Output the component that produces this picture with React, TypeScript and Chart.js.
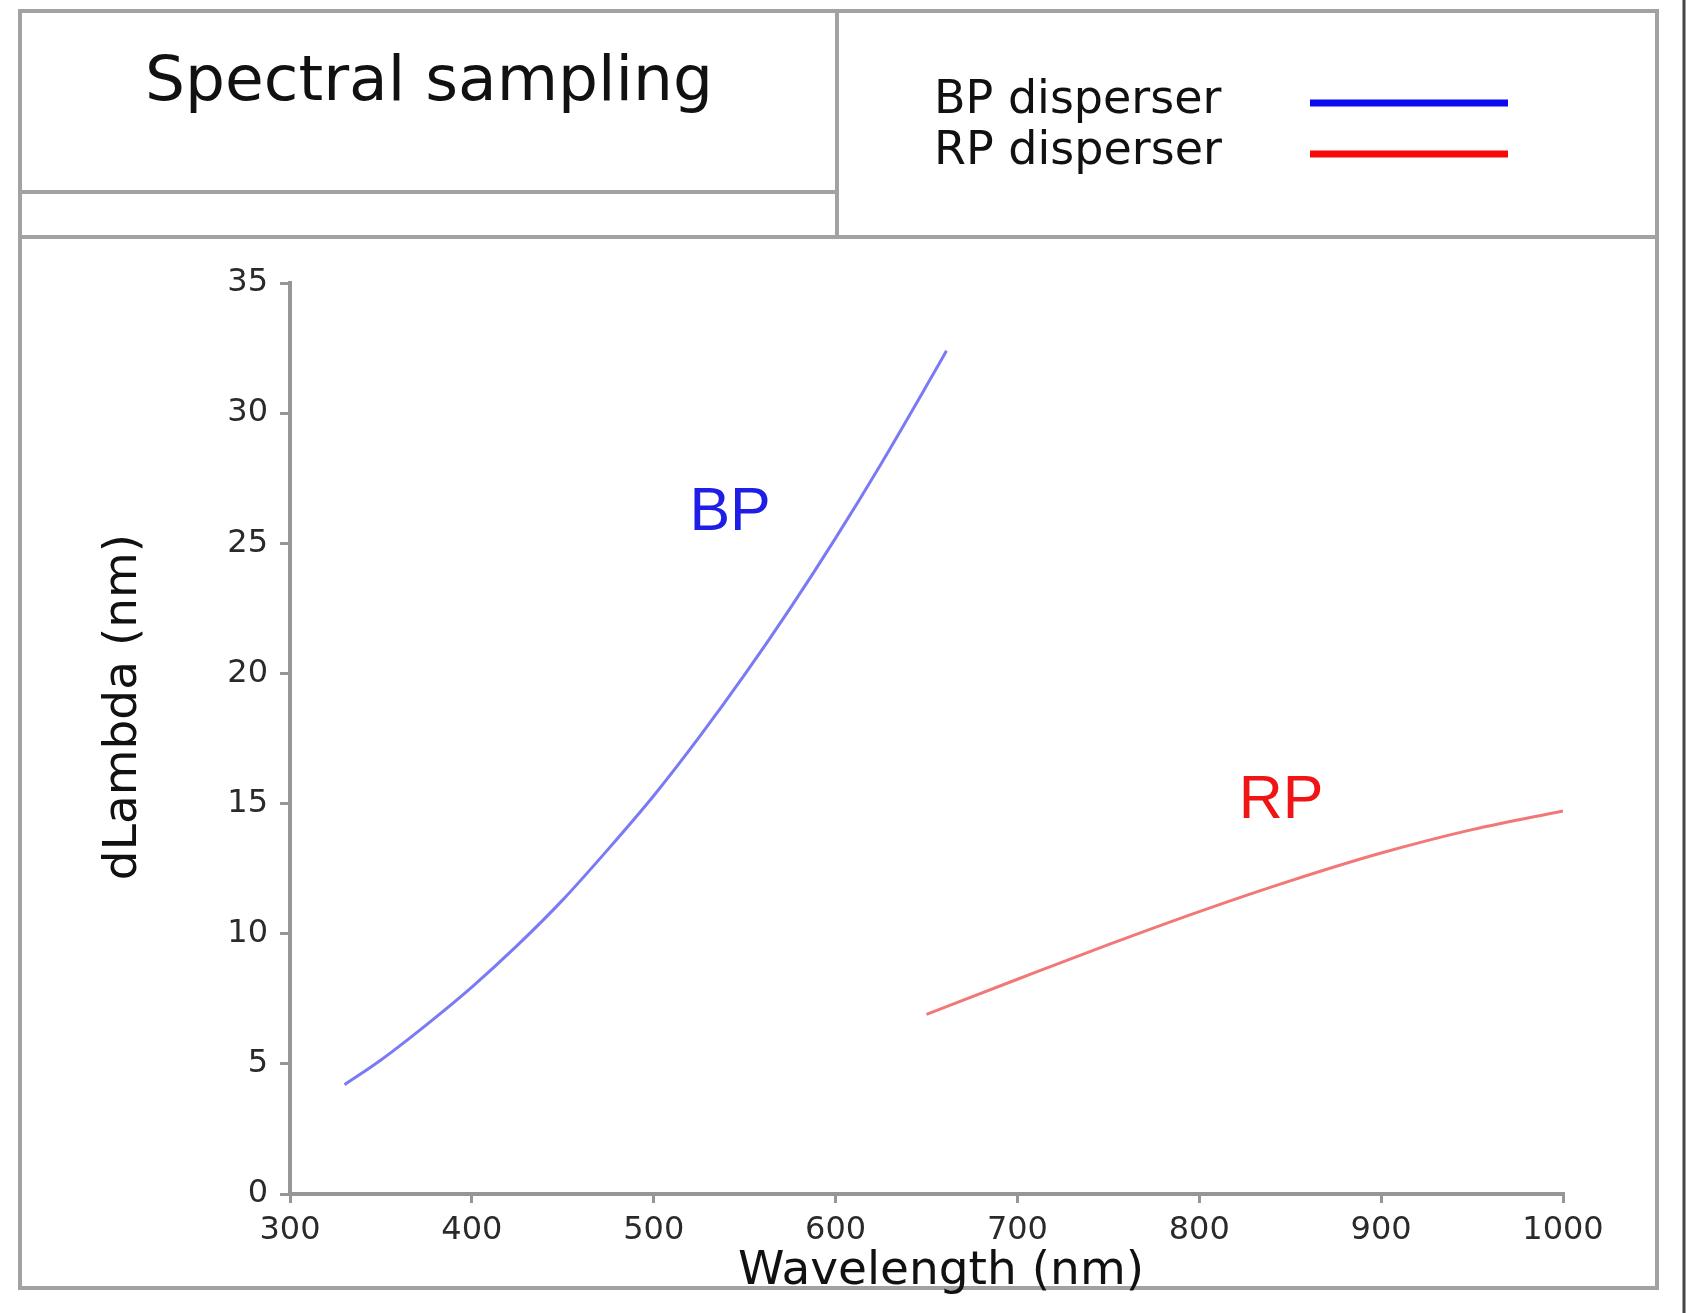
import React, { useEffect, useRef } from "react";
import { Chart, registerables } from "chart.js";

Chart.register(...registerables);

// ---- data ----
const bpWavelength = [330, 350, 375, 400, 425, 450, 475, 500, 525, 550, 575, 600, 625, 650, 661];
const bpDLambda = [4.2, 5.15, 6.5, 7.95, 9.55, 11.3, 13.25, 15.3, 17.55, 19.95, 22.5, 25.2, 28.05, 31.05, 32.4];
const rpWavelength = [650, 700, 750, 800, 850, 900, 950, 1000];
const rpDLambda = [6.9, 8.25, 9.58, 10.85, 12.03, 13.1, 14.0, 14.72];

const xTickValues = [300, 400, 500, 600, 700, 800, 900, 1000];
const yTickValues = [0, 5, 10, 15, 20, 25, 30, 35];

const seriesNames = ["BP disperser", "RP disperser"];
const curveLabels = ["BP", "RP"];
const curveLabelX = [542, 845];
const curveLabelY = [25.5, 14.45];

const chartTitle = "Spectral sampling";
const xTitle = "Wavelength (nm)";
const yTitle = "dLambda (nm)";

const W = 1687;
const H = 1313;

const FRAME = "#a2a2a2";
const AXIS = "#969696";
const BP_LINE = "#7a7af6";
const RP_LINE = "#f27878";

const decorPlugin = {
  id: "decor",
  beforeDraw(chart: any) {
    const ctx = chart.ctx;
    ctx.save();
    ctx.fillStyle = "#ffffff";
    ctx.fillRect(0, 0, W, H);
    ctx.strokeStyle = FRAME;
    ctx.lineWidth = 4;
    // outer frame
    ctx.strokeRect(20, 11, 1637, 1277);
    ctx.beginPath();
    // header divider
    ctx.moveTo(837, 11);
    ctx.lineTo(837, 237);
    // left box inner line
    ctx.moveTo(20, 192);
    ctx.lineTo(837, 192);
    // header bottom line
    ctx.moveTo(20, 237);
    ctx.lineTo(1657, 237);
    ctx.stroke();
    // dark edge on far right
    ctx.strokeStyle = "#444444";
    ctx.lineWidth = 3;
    ctx.beginPath();
    ctx.moveTo(1684, 0);
    ctx.lineTo(1684, H);
    ctx.stroke();
    ctx.restore();
  },
  afterDatasetsDraw(chart: any) {
    const ctx = chart.ctx;
    const xs = chart.scales.x;
    const ys = chart.scales.y;
    ctx.save();
    // title
    ctx.fillStyle = "#111111";
    ctx.textBaseline = "alphabetic";
    ctx.textAlign = "center";
    ctx.font = "63px 'DejaVu Sans'";
    ctx.fillText(chartTitle, 429, 100);

    // legend
    const legendColors = ["#0a0af0", "#f50a0a"];
    const baselines = [113, 164];
    const lineYs = [103, 154];
    ctx.font = "46px 'DejaVu Sans'";
    ctx.textAlign = "left";
    seriesNames.forEach((name, i) => {
      ctx.fillStyle = "#111111";
      ctx.fillText(name, 934, baselines[i]);
      ctx.strokeStyle = legendColors[i];
      ctx.lineWidth = 7;
      ctx.beginPath();
      ctx.moveTo(1310, lineYs[i]);
      ctx.lineTo(1508, lineYs[i]);
      ctx.stroke();
    });

    // curve labels
    const labelColors = ["#1e1ee6", "#f01414"];
    ctx.font = "61px 'Liberation Sans'";
    ctx.textAlign = "center";
    curveLabels.forEach((lab, i) => {
      ctx.fillStyle = labelColors[i];
      ctx.fillText(lab, xs.getPixelForValue(curveLabelX[i]), ys.getPixelForValue(curveLabelY[i]));
    });

    // axis titles
    ctx.fillStyle = "#111111";
    ctx.font = "47px 'DejaVu Sans'";
    ctx.textAlign = "center";
    ctx.fillText(xTitle, 941, 1284);
    ctx.translate(136, 707);
    ctx.rotate(-Math.PI / 2);
    ctx.fillText(yTitle, 0, 0);
    ctx.restore();
  },
};

export default function App() {
  const canvasRef = useRef<HTMLCanvasElement | null>(null);

  useEffect(() => {
    const canvas = canvasRef.current;
    if (!canvas) return;
    const chart = new Chart(canvas, {
      type: "line",
      data: {
        datasets: [
          {
            label: seriesNames[0],
            data: bpWavelength.map((x, i) => ({ x, y: bpDLambda[i] })),
            borderColor: BP_LINE,
            borderWidth: 3,
            pointRadius: 0,
            cubicInterpolationMode: "monotone",
            fill: false,
          },
          {
            label: seriesNames[1],
            data: rpWavelength.map((x, i) => ({ x, y: rpDLambda[i] })),
            borderColor: RP_LINE,
            borderWidth: 3,
            pointRadius: 0,
            cubicInterpolationMode: "monotone",
            fill: false,
          },
        ],
      },
      options: {
        animation: false,
        responsive: false,
        devicePixelRatio: 1,
        layout: { padding: { left: 0, top: 283, right: 124, bottom: 0 } },
        plugins: {
          legend: { display: false },
          tooltip: { enabled: false },
          title: { display: false },
        },
        scales: {
          x: {
            type: "linear",
            min: 300,
            max: 1000,
            afterBuildTicks: (s: any) => {
              s.ticks = xTickValues.map((v) => ({ value: v }));
            },
            afterFit: (s: any) => {
              s.height = 119;
            },
            grid: { drawOnChartArea: false, drawTicks: true, tickLength: 9, color: AXIS, lineWidth: 3 },
            border: { display: true, color: AXIS, width: 4 },
            ticks: {
              font: { family: "'DejaVu Sans'", size: 32 },
              color: "#2a2a2a",
              padding: 8,
              maxRotation: 0,
              autoSkip: false,
              callback: (v: any) => String(v),
            },
          },
          y: {
            type: "linear",
            min: 0,
            max: 35,
            afterBuildTicks: (s: any) => {
              s.ticks = yTickValues.map((v) => ({ value: v }));
            },
            afterFit: (s: any) => {
              s.width = 290;
            },
            grid: { drawOnChartArea: false, drawTicks: true, tickLength: 10, color: AXIS, lineWidth: 3 },
            border: { display: true, color: AXIS, width: 4 },
            ticks: {
              font: { family: "'DejaVu Sans'", size: 32 },
              color: "#2a2a2a",
              padding: 12,
              autoSkip: false,
              callback: (v: any) => String(v),
            },
          },
        },
      },
      plugins: [decorPlugin],
    } as any);
    return () => chart.destroy();
  }, []);

  return (
    <div style={{ position: "absolute", left: 0, top: 0, width: W, height: H }}>
      <canvas ref={canvasRef} width={W} height={H} style={{ width: W, height: H, display: "block" }} />
    </div>
  );
}
